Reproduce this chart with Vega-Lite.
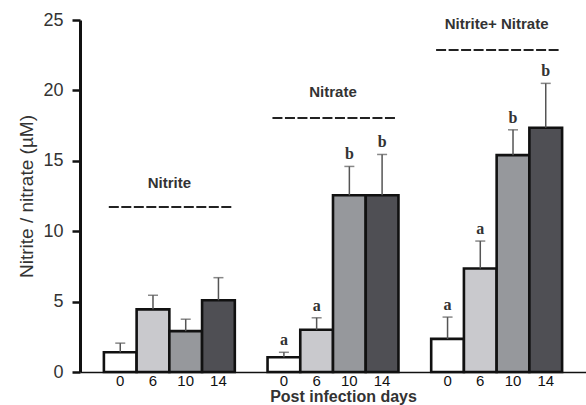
{
  "$schema": "https://vega.github.io/schema/vega-lite/v6.json",
  "width": 506,
  "height": 352,
  "autosize": "none",
  "padding": {"left": 80, "top": 20, "right": 0, "bottom": 33},
  "background": "white",
  "config": {"view": {"stroke": null}, "font": "Liberation Sans"},
  "datasets": {
    "bars": [
      {"group": "Nitrite", "day": "0", "slot": "Nitrite|0", "value": 1.4, "err": 2.05, "letter": ""},
      {"group": "Nitrite", "day": "6", "slot": "Nitrite|6", "value": 4.45, "err": 5.45, "letter": ""},
      {"group": "Nitrite", "day": "10", "slot": "Nitrite|10", "value": 2.9, "err": 3.75, "letter": ""},
      {"group": "Nitrite", "day": "14", "slot": "Nitrite|14", "value": 5.1, "err": 6.7, "letter": ""},
      {"group": "Nitrate", "day": "0", "slot": "Nitrate|0", "value": 1.05, "err": 1.4, "letter": "a"},
      {"group": "Nitrate", "day": "6", "slot": "Nitrate|6", "value": 3.0, "err": 3.85, "letter": "a"},
      {"group": "Nitrate", "day": "10", "slot": "Nitrate|10", "value": 12.55, "err": 14.6, "letter": "b"},
      {"group": "Nitrate", "day": "14", "slot": "Nitrate|14", "value": 12.55, "err": 15.45, "letter": "b"},
      {"group": "Both", "day": "0", "slot": "Both|0", "value": 2.35, "err": 3.9, "letter": "a"},
      {"group": "Both", "day": "6", "slot": "Both|6", "value": 7.35, "err": 9.3, "letter": "a"},
      {"group": "Both", "day": "10", "slot": "Both|10", "value": 15.4, "err": 17.2, "letter": "b"},
      {"group": "Both", "day": "14", "slot": "Both|14", "value": 17.35, "err": 20.5, "letter": "b"}
    ],
    "labels": [
      {"label": "Nitrite", "mid": "Nitrite|6", "start": "Nitrite|0", "end": "Nitrite|14", "ty": 13.4, "ly": 11.72},
      {"label": "Nitrate", "mid": "Nitrate|6", "start": "Nitrate|0", "end": "Nitrate|14", "ty": 19.9, "ly": 18.04},
      {"label": "Nitrite+ Nitrate", "mid": "Both|6", "start": "Both|0", "end": "Both|14", "ty": 24.7, "ly": 22.87}
    ]
  },
  "encoding": {
    "x": {
      "field": "slot",
      "type": "nominal",
      "sort": null,
      "scale": {
        "domain": ["Nitrite|0", "Nitrite|6", "Nitrite|10", "Nitrite|14", "gap1", "Nitrate|0", "Nitrate|6", "Nitrate|10", "Nitrate|14", "gap2", "Both|0", "Both|6", "Both|10", "Both|14"],
        "paddingInner": 0,
        "paddingOuter": 0.73
      },
      "axis": {
        "title": "Post infection days",
        "labelExpr": "indexof(datum.value, '|') >= 0 ? split(datum.value, '|')[1] : ''",
        "labelAngle": 0,
        "labelFontSize": 15,
        "labelColor": "#111",
        "labelPadding": 1,
        "ticks": false,
        "domainColor": "#111",
        "domainWidth": 1.5,
        "titleFontSize": 16,
        "titleFontWeight": "bold",
        "titleColor": "#333",
        "titlePadding": 0,
        "titleX": 263,
        "grid": false
      }
    }
  },
  "layer": [
    {
      "data": {"name": "bars"},
      "mark": {"type": "bar", "stroke": "#111", "strokeWidth": 2.6},
      "encoding": {
        "y": {
          "field": "value",
          "type": "quantitative",
          "scale": {"domain": [0, 25], "nice": false},
          "axis": {
            "title": "Nitrite / nitrate (µM)",
            "values": [0, 5, 10, 15, 20, 25],
            "grid": false,
            "domainColor": "#111",
            "domainWidth": 3,
            "tickColor": "#111",
            "tickWidth": 2.5,
            "tickSize": 8,
            "labelFontSize": 18,
            "labelColor": "#333",
            "labelPadding": 9,
            "titleFontSize": 19,
            "titleFontWeight": "normal",
            "titleColor": "#333",
            "titlePadding": 6
          }
        },
        "fill": {
          "field": "day",
          "type": "nominal",
          "scale": {"domain": ["0", "6", "10", "14"], "range": ["#ffffff", "#c9c9cd", "#96989c", "#4f4f54"]},
          "legend": null
        }
      }
    },
    {
      "data": {"name": "bars"},
      "mark": {"type": "rule", "color": "#555", "strokeWidth": 1.5},
      "encoding": {
        "y": {"field": "value", "type": "quantitative"},
        "y2": {"field": "err"}
      }
    },
    {
      "data": {"name": "bars"},
      "mark": {"type": "tick", "orient": "horizontal", "size": 10, "thickness": 1.5, "color": "#555"},
      "encoding": {
        "y": {"field": "err", "type": "quantitative"}
      }
    },
    {
      "data": {"name": "bars"},
      "mark": {"type": "text", "font": "Liberation Serif", "fontSize": 16, "fontWeight": "bold", "color": "#333", "baseline": "bottom", "dy": -4},
      "encoding": {
        "y": {"field": "err", "type": "quantitative"},
        "text": {"field": "letter"}
      }
    },
    {
      "data": {"name": "labels"},
      "mark": {"type": "text", "fontSize": 15, "fontWeight": "bold", "color": "#333", "baseline": "middle"},
      "encoding": {
        "x": {"field": "mid", "type": "nominal", "bandPosition": 1},
        "y": {"field": "ty", "type": "quantitative"},
        "text": {"field": "label"}
      }
    },
    {
      "data": {"name": "labels"},
      "mark": {"type": "rule", "color": "#222", "strokeWidth": 2, "strokeDash": [10, 2.5]},
      "encoding": {
        "x": {"field": "start", "type": "nominal", "bandPosition": 0.15},
        "x2": {"field": "end", "bandPosition": 0.95},
        "y": {"field": "ly", "type": "quantitative"}
      }
    }
  ]
}
